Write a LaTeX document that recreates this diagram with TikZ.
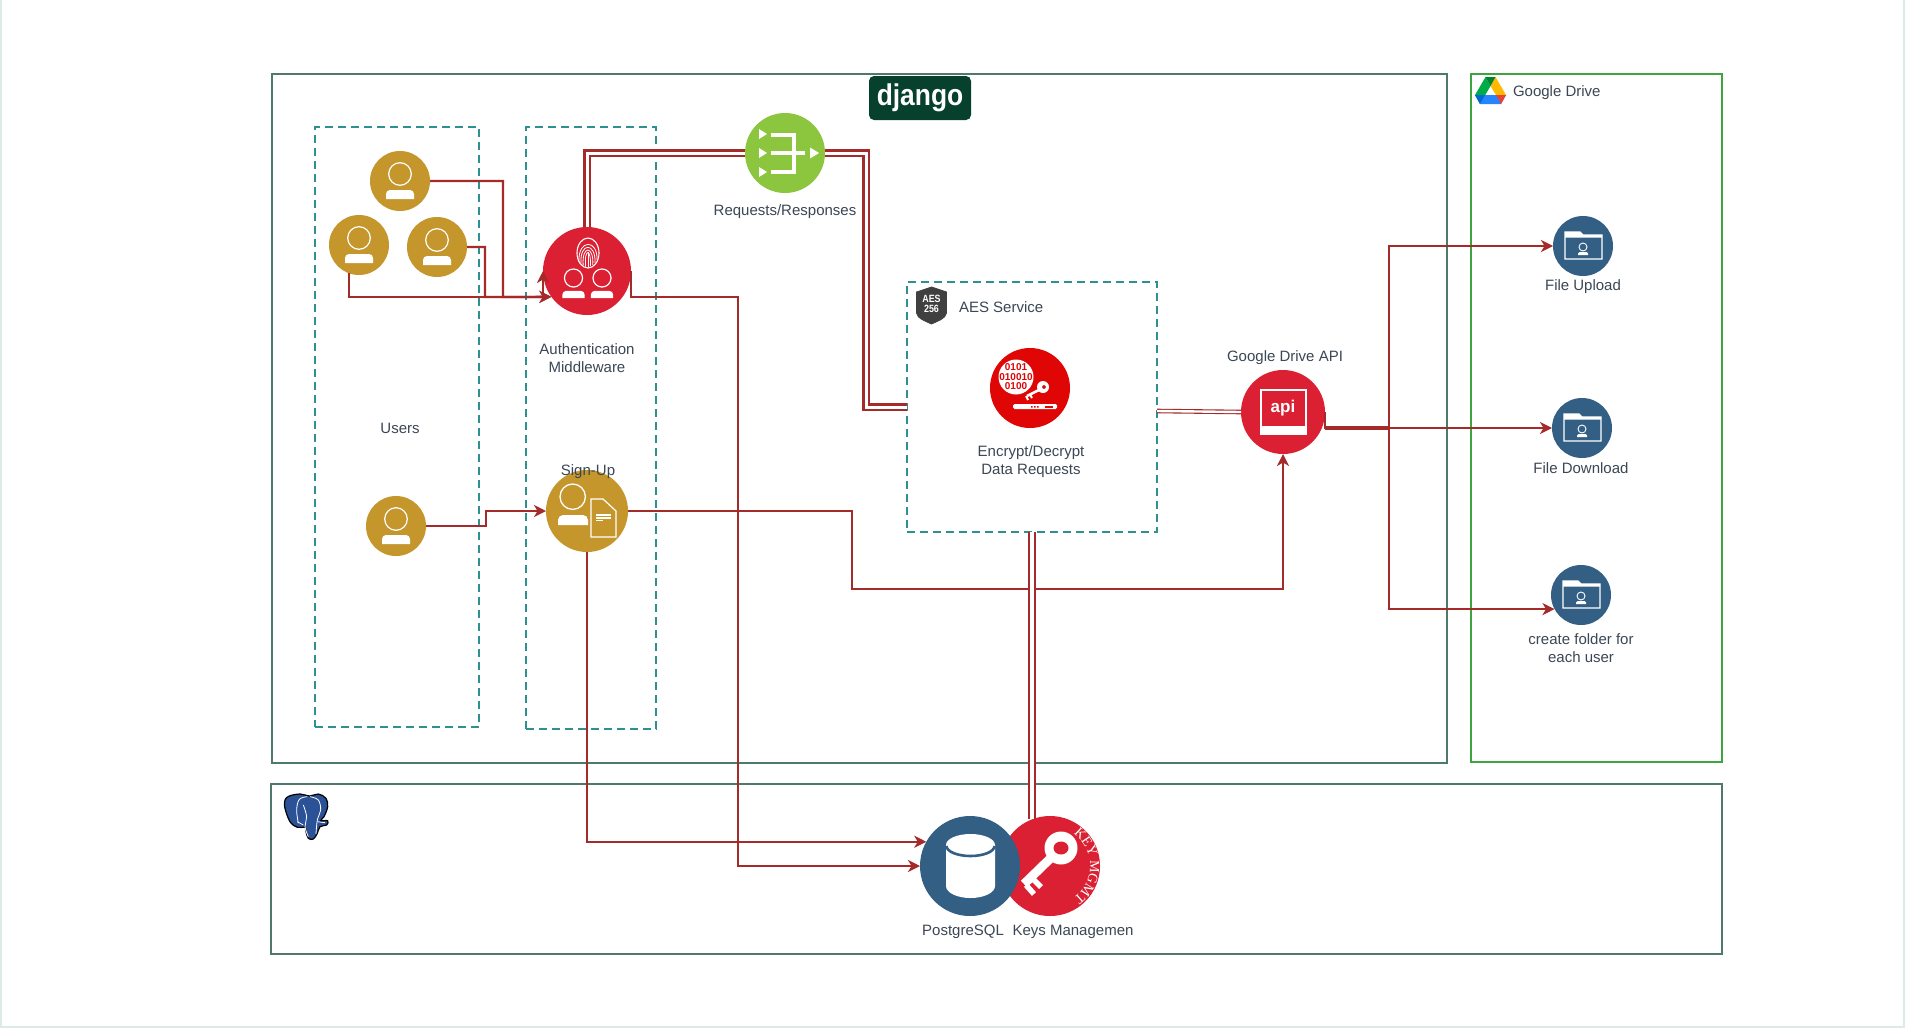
\documentclass[tikz,border=0pt]{standalone}
\usepackage{fontspec}
\setmainfont{Liberation Sans}
\newfontfamily\serifkey{Liberation Serif}
\usetikzlibrary{arrows.meta,shapes.geometric,decorations.text}
\definecolor{conn}{HTML}{A52A2A}
\definecolor{labelc}{HTML}{3B4754}
\definecolor{gold}{HTML}{C4962C}
\definecolor{redc}{HTML}{DA2032}
\definecolor{redenc}{HTML}{E00606}
\definecolor{greenc}{HTML}{8CC63F}
\definecolor{bluec}{HTML}{335F85}
\definecolor{tealc}{HTML}{2E9090}
\definecolor{frameg}{HTML}{4F7A6B}
\definecolor{frameb}{HTML}{3FA33F}
\definecolor{pagel}{HTML}{DCEAEA}
\definecolor{djangoc}{HTML}{07412D}
\definecolor{gdgreen}{HTML}{00AC47}
\definecolor{gdblue}{HTML}{2684FC}
\definecolor{gdyellow}{HTML}{FFBA00}
\definecolor{gddark}{HTML}{00832D}
\definecolor{gdnavy}{HTML}{0066DA}
\definecolor{gdred}{HTML}{EA4335}
\tikzset{
  every node/.style={inner sep=0pt,outer sep=0pt},
  regionbox/.style={draw=frameg,line width=2.2pt,fill=none},
  drivebox/.style={draw=frameb,line width=2.2pt,fill=none},
  dashbox/.style={draw=tealc,line width=2.3pt,dash pattern=on 8pt off 5pt,rectangle},
  disc/.style={circle,fill=#1},
  lbl/.style={text=labelc,align=center,font=\fontsize{15}{18}\selectfont},
  wire/.style={draw=conn,line width=2.3pt,-{Stealth[length=12pt,width=12pt,inset=3.5pt]}},
  plainwire/.style={draw=conn,line width=2.3pt},
  dblwire/.style={draw=conn,line width=2.1pt,double=white,double distance=3pt},
  thinwire/.style={draw=conn,line width=1.1pt,double=white,double distance=2.4pt},
  personicon/.pic={
    \draw[white,line width=1.2pt] (0,-7) circle (11.3);
    \fill[white] (-14,18) {[rounded corners=4pt] -- (-14,9) -- (14,9)} -- (14,18) -- cycle;
  },
  folderbase/.pic={
    \draw[white,line width=1.2pt,line join=miter] (-18,-14) -- (-3,-14) -- (0,-11) -- (19,-11) -- (19,13) -- (-18,13) -- cycle;
    \fill[white] (-18,-14) -- (-3,-14) -- (0,-11) -- (19,-11) -- (19,-8.5) -- (-18,-8.5) -- cycle;
    \draw[white,line width=0.9pt] (0,1) circle (4);
    \fill[white] (-5,9) {[rounded corners=1.5pt] -- (-5,6) -- (5,6)} -- (5,9) -- cycle;
  }
}
\begin{document}
\begin{tikzpicture}[x=1pt,y=-1pt]
\useasboundingbox (0,0) rectangle (1905,1028);
\fill[white] (0,0) rectangle (1905,1028);
\draw[pagel,line width=2pt] (1,0) -- (1,1027) -- (1904,1027) -- (1904,0);

% containers
\draw[regionbox] (272,74) rectangle (1447,763);
\draw[drivebox] (1471,74) rectangle (1722,762);
\draw[regionbox] (271,784) rectangle (1722,954);
\node[dashbox,minimum width=164pt,minimum height=600pt] (usersbox) at (397,427) {};
\node[dashbox,minimum width=130pt,minimum height=602pt] (authbox) at (591,428) {};
\node[dashbox,minimum width=250pt,minimum height=250pt] (aes) at (1032,407) {};

% discs
\node[disc=gold,minimum size=60pt] (usrtop) at (400,181) {};
\node[disc=gold,minimum size=60pt] (usrleft) at (359,245) {};
\node[disc=gold,minimum size=60pt] (usrright) at (437,247) {};
\node[disc=gold,minimum size=60pt] (usrbot) at (396,526) {};
\node[disc=redc,minimum size=88pt] (auth) at (587,271) {};
\node[disc=gold,minimum size=82pt] (signup) at (587,511) {};
\node[disc=greenc,minimum size=80pt] (req) at (785,153) {};
\node[disc=redenc,minimum size=80pt] (enc) at (1030,388) {};
\node[disc=redc,minimum size=84pt] (api) at (1283,412) {};
\node[disc=redc,minimum size=100pt] (key) at (1050,866) {};
\node[disc=bluec,minimum size=60pt] (fu) at (1583,246) {};
\node[disc=bluec,minimum size=60pt] (fd) at (1582,428) {};
\node[disc=bluec,minimum size=60pt] (cf) at (1581,595) {};

% key icon
\draw[white,line width=9pt] (1058,851) -- (1024,884);
\draw[white,line width=5.5pt] (1032,878) -- (1041,887);
\draw[white,line width=5.5pt] (1026,885) -- (1034,894);
\fill[white] (1061,848) circle (16.5);
\fill[redc] (1061,848) ellipse (7.5 and 6.5);
\path[decorate,decoration={text along path,text align=center,
  text={|\fontsize{14}{14}\serifkey\color{white}|KEY MGMT}}]
  (1050,866) ++(-62:40) arc[start angle=-62,end angle=62,radius=40];

\node[disc=bluec,minimum size=100pt] (pg) at (970,866) {};

% turning points
\coordinate (turnA) at (503,297);
\coordinate (turnB) at (485,297);
\coordinate (turnC) at (543,297);
\coordinate (turnD) at (631,297);
\coordinate (turnE) at (738,297);
\coordinate (turnF) at (852,589);
\coordinate (turnG) at (486,526);
\coordinate (turnH) at (1325,428);
\coordinate (turnI) at (1389,428);
\coordinate (reqturn) at (866,153);
\coordinate (aesout) at (1157,411);

% connectors
\draw[wire] (usrtop.east) -| (turnA) -- (auth.216);
\draw[wire] (usrright.east) -| (turnB) -- (auth.216);
\draw[wire] (usrleft.250) |- (turnC) -- (auth.west);
\draw[wire] (auth.east) -- (turnD) -- (turnE) |- (pg.west);
\draw[wire] (signup.south) |- (pg.151);
\draw[wire] (signup.east) -| (turnF) -| (api.south);
\draw[wire] (usrbot.east) -- (turnG) |- (signup.west);
\draw[dblwire] (auth.north) |- (req.west);
\draw[dblwire] (req.east) -- (reqturn) |- (aes.west);
\draw[thinwire] (aesout) -- (api.west);
\draw[dblwire,line width=1.8pt,double distance=3.6pt] (aes.south) -- (aes.south |- key.110);
\draw[wire] (api.east) -- (turnH) -- (turnI) |- (fu.west);
\draw[wire] (turnH) -- (fd.west);
\draw[wire] (turnI) |- (cf.208);
\draw[plainwire,line width=3.2pt] (turnH) -- (turnI);

% person icons
\path (usrtop) pic {personicon};
\path (usrleft) pic {personicon};
\path (usrright) pic {personicon};
\path (usrbot) pic {personicon};
\path (auth) ++(-13.5,12.6) pic[scale=0.8] {personicon};
\path (auth) ++(15,12.6) pic[scale=0.8] {personicon};

% fingerprint
\begin{scope}[shift={(588,253)}]
  \draw[white,line width=1.1pt] (0,0) ellipse (11 and 15);
  \draw[white,line width=0.8pt] (-9,8) .. controls (-10,-14) and (10,-14) .. (9,7);
  \draw[white,line width=0.8pt] (-7,10.5) .. controls (-8.5,-11) and (8,-11) .. (7,10);
  \draw[white,line width=0.8pt] (-4.8,12.5) .. controls (-6.5,-8) and (6,-8) .. (4.8,12);
  \draw[white,line width=0.8pt] (-2.4,13.5) .. controls (-4,-5) and (3.5,-5) .. (2.4,13);
  \draw[white,line width=0.8pt] (0,-1) -- (0,14);
\end{scope}

% signup icon
\begin{scope}[shift={(signup)}]
  \draw[white,line width=1.3pt] (-14.3,-14.3) circle (12.7);
  \fill[white] (-29,14) {[rounded corners=5pt] -- (-29,4) -- (1,4)} -- (1,14) -- cycle;
  \draw[white,line width=1.2pt,fill=gold] (4,-12) -- (16,-12) -- (29,0) -- (29,26) -- (4,26) -- cycle;
  \draw[white,line width=1.2pt] (9,4) -- (24,4) (9,7) -- (24,7) (9,9.5) -- (16,9.5);
\end{scope}

% requests icon
\begin{scope}[shift={(req)}]
  \fill[white] (-26,-24) -- (-18,-19) -- (-26,-14) -- cycle;
  \fill[white] (-26,-5) -- (-18,0) -- (-26,5) -- cycle;
  \fill[white] (-26,14) -- (-18,19) -- (-26,24) -- cycle;
  \fill[white] (25,-5.5) -- (34,0) -- (25,5.5) -- cycle;
  \draw[white,line width=3.2pt] (-14,-18) -- (9,-18) -- (9,19) -- (-14,19);
  \draw[white,line width=3.2pt] (-14,0) -- (20,0);
\end{scope}

% encrypt icon
\fill[white] (1016,377) circle (17.5);
\node[text=redenc,font=\fontsize{10}{12}\bfseries\selectfont] (bits1) at (1016,367.5) {0101};
\node[text=redenc,font=\fontsize{10}{12}\bfseries\selectfont] (bits2) at (1016,377) {010010};
\node[text=redenc,font=\fontsize{10}{12}\bfseries\selectfont] (bits3) at (1016,386.5) {0100};
\fill[white,even odd rule] (1043,387) circle (6) (1044,387) circle (2);
\draw[white,line width=2.6pt] (1039,390) -- (1027,396);
\draw[white,line width=2pt] (1030,394.5) -- (1032,398) (1026,396) -- (1028,400);
\fill[white,rounded corners=1.5pt] (1013,404) rectangle (1057,409);
\fill[redenc] (1031,406) rectangle (1032.5,407.5) (1034,406) rectangle (1035.5,407.5) (1037,406) rectangle (1038.5,407.5);
\fill[redenc] (1045,406) rectangle (1053,407.5);

% api icon
\draw[white,line width=1.2pt] (1261,390) rectangle (1306,434);
\fill[white] (1261,426) rectangle (1306,434);
\node[text=white,font=\fontsize{17}{20}\bfseries\selectfont] (apitext) at (1283,408) {api};

% postgres cylinder
\fill[white] (946,845) -- (946,886) arc[start angle=180,end angle=360,x radius=24.5,y radius=-12] -- (995,845) arc[start angle=0,end angle=180,x radius=24.5,y radius=-11] -- cycle;
\draw[bluec,line width=2.6pt] (946.5,846) arc[start angle=180,end angle=360,x radius=24,y radius=-10];

% folder icons
\path (fu) pic {folderbase};
\path (fd) pic {folderbase};
\path (cf) pic {folderbase};

% django logo
\node[fill=djangoc,rounded corners=5pt,minimum width=102pt,minimum height=44pt] (djangologo) at (920,98) {};
\node[text=white,xscale=0.88,font=\fontsize{30}{30}\bfseries\selectfont] (djangotext) at (920,98) {django};

% AES shield
\begin{scope}[shift={(931.5,287)}]
  \draw[fill=black!75,draw=black!75,line width=0.8pt] (0,0) -- (15,5) -- (15,26) .. controls (14,32) and (6,34) .. (0,37) .. controls (-6,34) and (-14,32) .. (-15,26) -- (-15,5) -- cycle;
\end{scope}
\node[text=white,align=center,xscale=0.85,font=\fontsize{10.5}{9.5}\bfseries\selectfont] (aesbadge) at (931.5,304) {AES\\256};

% Google Drive logo
\begin{scope}[shift={(1475,77)}]
  \fill[gdgreen] (10.5,0) -- (15.5,9) -- (5,27) -- (0,18) -- cycle;
  \fill[gdblue] (10,18) -- (31,18) -- (26,27) -- (5,27) -- cycle;
  \fill[gdyellow] (20.5,0) -- (31,18) -- (21,18) -- (15.5,9) -- cycle;
  \fill[gddark] (10.5,0) -- (20.5,0) -- (15.5,9) -- cycle;
  \fill[gdnavy] (0,18) -- (10,18) -- (5,27) -- cycle;
  \fill[gdred] (21,18) -- (31,18) -- (26,27) -- cycle;
\end{scope}

% PostgreSQL elephant
\begin{scope}[shift={(260,770)},x=0.3333pt,y=-0.3333pt]
  \draw[black,line width=1.2pt,fill=bluec!85!blue] plot[smooth cycle,tension=0.6] coordinates {(88,78) (120,72) (150,78) (175,72) (198,85) (203,110) (192,140) (182,152) (203,152) (200,165) (180,170) (172,190) (160,207) (145,205) (138,185) (135,172) (112,172) (90,155) (75,115) (75,90)};
  \draw[white,line width=0.8pt] plot[smooth,tension=0.6] coordinates {(142,80) (118,88) (110,120) (115,160)};
  \draw[white,line width=0.8pt] plot[smooth,tension=0.6] coordinates {(150,80) (175,90) (182,120) (172,150) (168,192)};
  \draw[white,line width=0.8pt] plot[smooth,tension=0.6] coordinates {(130,105) (140,140) (135,170) (145,200)};
  \draw[white,line width=0.8pt] (112,155) -- (130,165) (172,155) -- (195,158);
\end{scope}

% labels
\node[lbl] (lusers) at (400,428) {Users};
\node[lbl] (lauth) at (587,358) {Authentication\\Middleware};
\node[lbl] (lreq) at (785,212) {Requests/Responses};
\node[lbl,anchor=west] (laes) at (959,307) {AES Service};
\node[lbl] (lenc) at (1031,462) {Encrypt/Decrypt\\Data Requests};
\node[lbl] (lapi) at (1285,357.5) {Google Drive API};
\node[lbl] (lsign) at (588,472) {Sign-Up};
\node[lbl] (lpg) at (963,932) {PostgreSQL};
\node[lbl] (lkeys) at (1073,932) {Keys Managemen};
\node[lbl,anchor=west] (ldrive) at (1513,93) {Google Drive};
\node[lbl] (lfu) at (1583,286.5) {File Upload};
\node[lbl] (lfd) at (1581,468) {File Download};
\node[lbl] (lcf) at (1581,648) {create folder for\\each user};
\end{tikzpicture}
\end{document}
